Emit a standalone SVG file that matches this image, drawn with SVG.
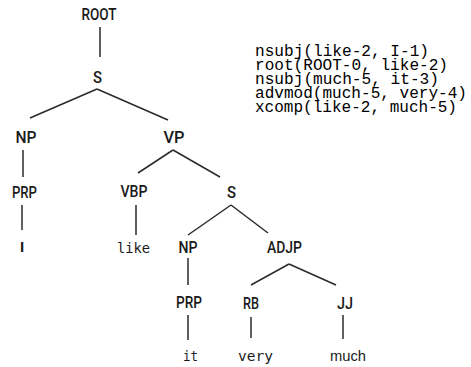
<svg xmlns="http://www.w3.org/2000/svg" width="471" height="367" viewBox="0 0 471 367">
<style>
.lbl{font-family:Roboto,"Liberation Sans",sans-serif;font-size:16px;font-weight:500;fill:#1a1a1a;text-anchor:middle}
.leaf{font-family:"DejaVu Sans Mono","Liberation Mono",monospace;font-size:14.5px;fill:#1a1a1a;text-anchor:middle}
.leafs{font-family:"Liberation Sans",Arial,sans-serif;font-size:15px;fill:#1a1a1a;text-anchor:middle}
.dep{font-family:"Liberation Mono","DejaVu Sans Mono",monospace;font-size:16px;fill:#000}
.edge{stroke:#2a2a2a;stroke-width:1.5;fill:none}
</style>
<rect width="471" height="367" fill="#fff"/>
<g id="connectors" class="edge">
<line x1="100" y1="27" x2="100" y2="57"/>
<line x1="97" y1="89" x2="30" y2="118"/>
<line x1="97" y1="89" x2="168" y2="120"/>
<line x1="23" y1="150" x2="23" y2="177"/>
<line x1="173" y1="150" x2="138" y2="173"/>
<line x1="173" y1="150" x2="220" y2="177"/>
<line x1="22" y1="205" x2="22" y2="230"/>
<line x1="136" y1="205" x2="136" y2="235"/>
<line x1="231" y1="205" x2="188" y2="235"/>
<line x1="231" y1="205" x2="268" y2="233"/>
<line x1="188" y1="258" x2="188" y2="285"/>
<line x1="289" y1="264" x2="251" y2="285"/>
<line x1="289" y1="264" x2="336" y2="285"/>
<line x1="188" y1="315" x2="188" y2="340"/>
<line x1="251" y1="317" x2="251" y2="338"/>
<line x1="343" y1="315" x2="343" y2="339"/>
</g>
<g id="n-root"><text class="lbl" x="99" y="20" textLength="35" lengthAdjust="spacingAndGlyphs">ROOT</text></g>
<g id="n-s"><text class="lbl" x="97.5" y="83" textLength="9" lengthAdjust="spacingAndGlyphs">S</text></g>
<g id="n-np"><text class="lbl" x="26" y="143" textLength="21" lengthAdjust="spacingAndGlyphs">NP</text></g>
<g id="n-vp"><text class="lbl" x="174" y="143" textLength="21" lengthAdjust="spacingAndGlyphs">VP</text></g>
<g id="n-prp"><text class="lbl" x="24.5" y="198" textLength="25" lengthAdjust="spacingAndGlyphs">PRP</text></g>
<g id="n-vbp"><text class="lbl" x="134" y="197" textLength="27" lengthAdjust="spacingAndGlyphs">VBP</text></g>
<g id="n-s2"><text class="lbl" x="231.5" y="198" textLength="9" lengthAdjust="spacingAndGlyphs">S</text></g>
<g id="n-i"><text class="leafs" x="22" y="252" font-weight="bold">I</text></g>
<g id="n-like"><text class="leaf" x="133.5" y="253" textLength="33" lengthAdjust="spacingAndGlyphs">like</text></g>
<g id="n-np2"><text class="lbl" x="188" y="253" textLength="19" lengthAdjust="spacingAndGlyphs">NP</text></g>
<g id="n-adjp"><text class="lbl" x="284.5" y="253" textLength="35" lengthAdjust="spacingAndGlyphs">ADJP</text></g>
<g id="n-prp2"><text class="lbl" x="189" y="308" textLength="26" lengthAdjust="spacingAndGlyphs">PRP</text></g>
<g id="n-rb"><text class="lbl" x="251" y="309" textLength="16" lengthAdjust="spacingAndGlyphs">RB</text></g>
<g id="n-jj"><text class="lbl" x="345" y="309" textLength="16" lengthAdjust="spacingAndGlyphs">JJ</text></g>
<g id="n-it"><text class="leaf" x="190.5" y="361" textLength="15" lengthAdjust="spacingAndGlyphs">it</text></g>
<g id="n-very"><text class="leaf" x="255.5" y="361" textLength="35" lengthAdjust="spacingAndGlyphs">very</text></g>
<g id="n-much"><text class="leafs" x="348" y="361" textLength="36" lengthAdjust="spacingAndGlyphs">much</text></g>
<g id="deps">
<text class="dep" x="255" y="56" textLength="174" lengthAdjust="spacingAndGlyphs">nsubj(like-2, I-1)</text>
<text class="dep" x="255" y="70" textLength="193" lengthAdjust="spacingAndGlyphs">root(ROOT-0, like-2)</text>
<text class="dep" x="255" y="84" textLength="184" lengthAdjust="spacingAndGlyphs">nsubj(much-5, it-3)</text>
<text class="dep" x="255" y="98" textLength="212" lengthAdjust="spacingAndGlyphs">advmod(much-5, very-4)</text>
<text class="dep" x="255" y="112" textLength="202" lengthAdjust="spacingAndGlyphs">xcomp(like-2, much-5)</text>
</g>
</svg>
